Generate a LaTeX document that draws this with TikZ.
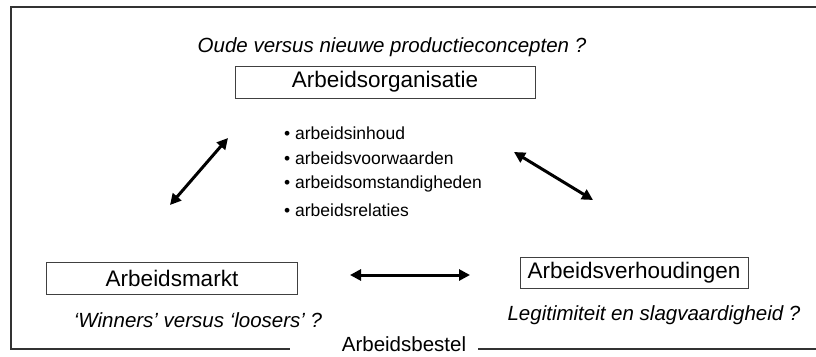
\documentclass[tikz,border=0pt]{standalone}
\usepackage{fontspec}
\setmainfont{Liberation Sans}
\usetikzlibrary{positioning,arrows.meta}

\tikzset{
  areabox/.style={draw=black!75,line width=0.8pt,inner sep=0pt,minimum height=32pt,font=\fontsize{22.5}{26}\selectfont},
  question/.style={font=\fontsize{20.5}{24}\selectfont\itshape},
  bulletitem/.style={anchor=west,inner sep=0pt,font=\fontsize{17.5}{20}\selectfont},
  link/.style={line width=3pt,{Triangle[length=11pt,width=11pt]}-{Triangle[length=11pt,width=11pt]}},
  borderline/.style={draw=black!80,line width=1.4pt}
}

\begin{document}
\begin{tikzpicture}[x=1pt,y=-1pt]
  \useasboundingbox (0,0) rectangle (816,356);
  % outer frame, open to the right
  \node[font=\fontsize{20.5}{24}\selectfont,anchor=base,inner sep=0pt] (bestel) at (404,351) {Arbeidsbestel};
  \draw[borderline] (816,7) -- (11,7) -- (11,349) -- (290,349);
  \draw[borderline] (478,349) -- (816,349);

  \node[question] (orgq) at (392,47) {Oude versus nieuwe productieconcepten ?};
  \node[areabox,minimum width=300pt] (org) at (385,82) {Arbeidsorganisatie};

  \node[bulletitem] (inhoud) at (284,133) {• arbeidsinhoud};
  \node[bulletitem] (voorw) at (284,158) {• arbeidsvoorwaarden};
  \node[bulletitem] (omst) at (284,184) {• arbeidsomstandigheden};
  \node[bulletitem] (relaties) at (284,210) {• arbeidsrelaties};

  \node[areabox,minimum width=251pt] (markt) at (172,278) {Arbeidsmarkt};
  \node[question] (marktq) at (198,320) {‘Winners’ versus ‘loosers’ ?};
  \node[areabox,minimum width=228pt,minimum height=31pt] (verh) at (634,273) {Arbeidsverhoudingen};
  \node[question] (verhq) at (654,315) {Legitimiteit en slagvaardigheid ?};

  \coordinate (orgL) at (228,138);
  \coordinate (marktT) at (170,205);
  \coordinate (orgR) at (514,152);
  \coordinate (verhT) at (593,200);
  \coordinate (marktR) at (350,275);
  \coordinate (verhL) at (470,275);
  \draw[link] (marktT) -- (orgL);
  \draw[link] (orgR) -- (verhT);
  \draw[link] (marktR) -- (verhL);
\end{tikzpicture}
\end{document}
